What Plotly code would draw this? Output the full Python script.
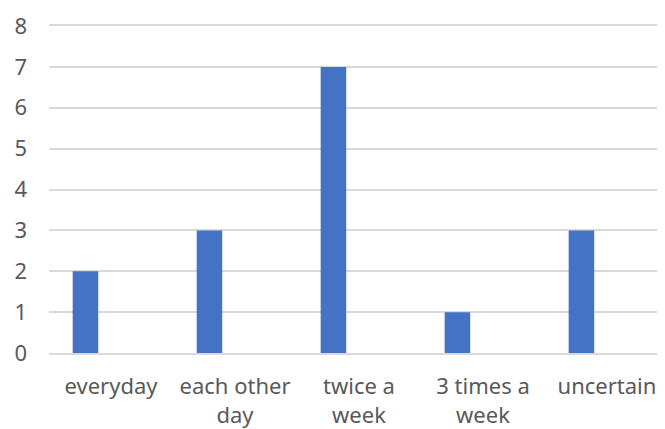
import plotly.graph_objects as go

categories = ["everyday", "each other<br>day", "twice a<br>week", "3 times a<br>week", "uncertain"]
values = [2, 3, 7, 1, 3]

fig = go.Figure()
fig.add_trace(go.Bar(x=categories, y=values, width=0.206, offset=-0.309,
                     marker=dict(color="#4472C4", line=dict(width=0)), showlegend=False))

font = dict(family="Noto Sans, Open Sans, sans-serif", size=22, color="#595959")
# page body has an 8px default margin, so the figure is drawn 8px in and down
fig.update_layout(
    width=657, height=421,
    margin=dict(l=41, r=0, t=18, b=71),
    paper_bgcolor="white", plot_bgcolor="white",
    font=font,
    xaxis=dict(range=[-0.5, 4.468], showgrid=False, showline=True, mirror=True,
               linecolor="#d9d9d9", linewidth=1.5,
               ticks="", tickfont=font, ticklabelstandoff=13, ticklabeloverflow="allow"),
    yaxis=dict(range=[0, 8], dtick=1, showgrid=True, gridcolor="#d9d9d9", gridwidth=1.5,
               zeroline=False, showline=False, ticks="", tickfont=font, ticklabelstandoff=21,
               ticklabeloverflow="allow"),
)
fig.write_html("out.html")
